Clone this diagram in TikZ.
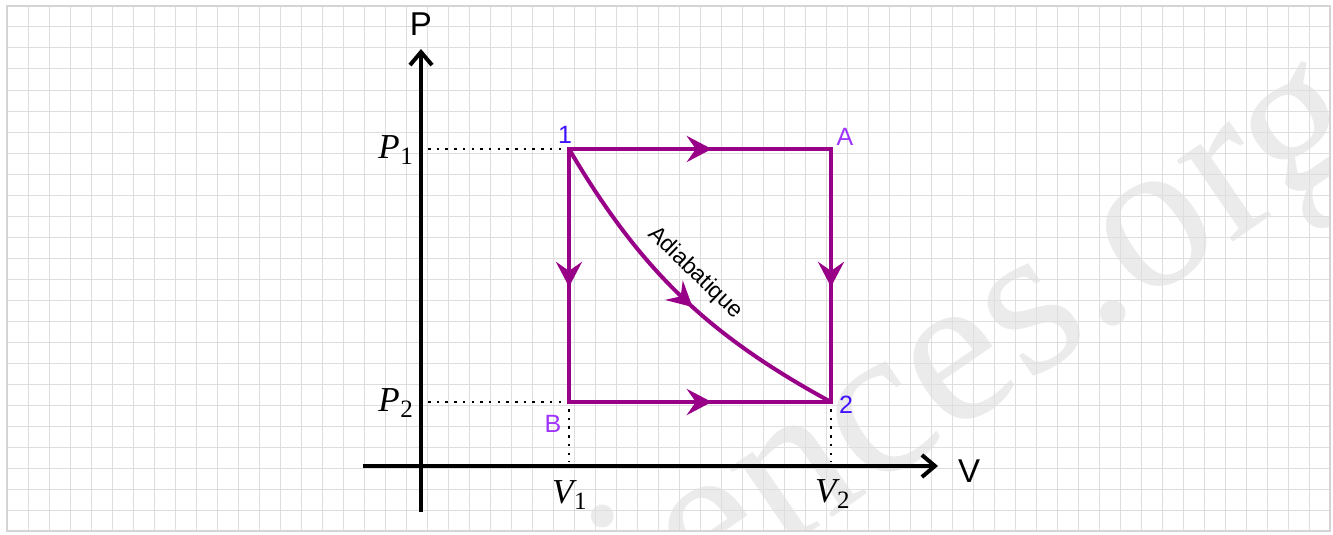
\documentclass[tikz,border=0pt]{standalone}
\usepackage[no-math]{fontspec}
\setsansfont{Liberation Sans}
\newfontfamily\wmfont{Liberation Serif}
\usetikzlibrary{arrows.meta,decorations.markings}
\definecolor{cyclepurple}{HTML}{990088}
\definecolor{numblue}{HTML}{4010FF}
\definecolor{letviolet}{HTML}{A033FF}
\definecolor{gridgray}{HTML}{DEDEDE}
\definecolor{framegray}{HTML}{D4D4D4}
\definecolor{wmgray}{HTML}{EBEBEB}
\newcommand\mlab[2]{{\wmfont\itshape #1}\kern0.5pt\raisebox{-6pt}{\wmfont\fontsize{25}{25}\selectfont #2}}
\begin{document}
\begin{tikzpicture}[x=1pt,y=-1pt,
  gridline/.style={gridgray, line width=1pt},
  axisline/.style={black, line width=4pt, -{Straight Barb[length=13pt,width=22pt]}},
  cycleline/.style={cyclepurple, line width=4pt},
  midarrow/.style={postaction={decorate, decoration={markings,
      mark=at position #1 with {\arrow{Stealth[length=25pt,width=26pt,inset=9pt]}}}}},
  guide/.style={black, line width=2.5pt, dash pattern=on 2.5pt off 6.2pt},
  axislabel/.style={font=\sffamily\fontsize{33}{33}\selectfont, inner sep=0pt},
  mathlabel/.style={font=\fontsize{35}{35}\selectfont, inner sep=0pt},
  numlabel/.style={font=\sffamily\fontsize{25}{25}\selectfont, text=numblue, inner sep=0pt},
  letlabel/.style={font=\sffamily\fontsize{25}{25}\selectfont, text=letviolet, inner sep=0pt},
  curvelabel/.style={font=\sffamily\fontsize{23}{23}\selectfont, inner sep=0pt},
  watermark/.style={font=\wmfont\fontsize{215}{215}\selectfont, text=wmgray, inner sep=0pt}
]
\useasboundingbox (0,0) rectangle (1333,535);
\fill[white] (0,0) rectangle (1333,535);
% watermark
\begin{scope}
  \clip (7,6) rectangle (1330,531);
  \node[watermark, rotate=34.5, anchor=base west] (wm) at (506,742) {sciences.org};
\end{scope}
% grid
\foreach \i in {1,...,62} \draw[gridline] ({7+21*\i},6) -- ({7+21*\i},531);
\foreach \j in {1,...,24} \draw[gridline] (7,{6+21*\j}) -- (1330,{6+21*\j});
\draw[framegray, line width=2pt] (7,6) rectangle (1330,531);

% coordinates
\coordinate (ptop) at (421,49);
\coordinate (pbot) at (421,512);
\coordinate (vleft) at (363,466);
\coordinate (vright) at (938,466);
\coordinate (s1) at (569,149);
\coordinate (sA) at (831,149);
\coordinate (sB) at (569,402);
\coordinate (s2) at (831,402);
\coordinate (g1) at (428,149);
\coordinate (g2) at (428,402);
\coordinate (gB) at (569,409);
\coordinate (gV1) at (569,462);
\coordinate (g2t) at (831,409);
\coordinate (gV2) at (831,462);

% guides
\draw[guide] (g1) -- (s1);
\draw[guide] (g2) -- (sB);
\draw[guide] (gB) -- (gV1);
\draw[guide] (g2t) -- (gV2);

% axes
\draw[axisline] (pbot) -- (ptop);
\draw[axisline] (vleft) -- (vright);

% cycle
\draw[cycleline, line cap=rect, midarrow=0.545] (s1) -- (sA);
\draw[cycleline, line cap=rect, midarrow=0.545] (sA) -- (s2);
\draw[cycleline, line cap=rect, midarrow=0.545] (s1) -- (sB);
\draw[cycleline, line cap=rect, midarrow=0.545] (sB) -- (s2);
\draw[cycleline, midarrow=0.545] (s1) .. controls (641,271) and (708,335) .. (s2);

% labels
\node[axislabel, anchor=base] (Plab) at (421,36) {P};
\node[axislabel, anchor=base] (Vlab) at (969,482) {V};
\node[mathlabel, anchor=base east] (P1lab) at (413,158) {\mlab{P}{1}};
\node[mathlabel, anchor=base east] (P2lab) at (413,411) {\mlab{P}{2}};
\node[mathlabel, anchor=base west] (V1lab) at (552,503) {\mlab{V}{1}};
\node[mathlabel, anchor=base west] (V2lab) at (815,502) {\mlab{V}{2}};
\node[numlabel, anchor=base] (l1) at (565,143) {1};
\node[letlabel, anchor=base] (lA) at (845,145) {A};
\node[letlabel, anchor=base] (lB) at (553,432) {B};
\node[numlabel, anchor=base] (l2) at (846,413) {2};
\node[curvelabel, rotate=-44] (adia) at (695,273) {Adiabatique};
\end{tikzpicture}
\end{document}
